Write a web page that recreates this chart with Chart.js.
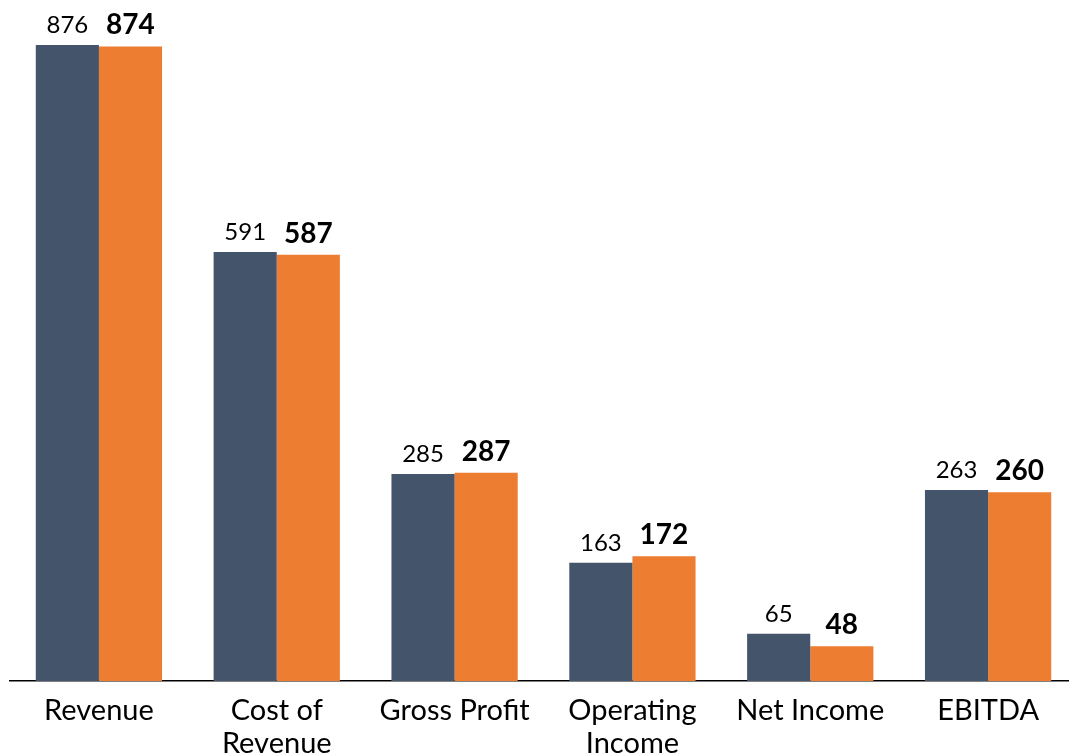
<!DOCTYPE html>
<html>
<head>
<meta charset="utf-8">
<script src="https://cdn.jsdelivr.net/npm/chart.js@4"></script>
<style>
  html, body { margin: 0; padding: 0; background: #fff; overflow: hidden; }
  #wrap { width: 1077px; height: 754px; }
</style>
</head>
<body>
<div id="wrap"><canvas id="finChart"></canvas></div>
<script>
// categories and values
const categories = [['Revenue'], ['Cost of', 'Revenue'], ['Gross Profit'], ['Operating', 'Income'], ['Net Income'], ['EBITDA']];
const priorValues = [876, 591, 285, 163, 65, 263];
const currentValues = [874, 587, 287, 172, 48, 260];

const FONT = 'Lato, "Open Sans", sans-serif';

// value labels above each bar (first series normal, second bold)
const valueLabels = {
  id: 'valueLabels',
  afterDatasetsDraw(chart) {
    const ctx = chart.ctx;
    ctx.save();
    ctx.fillStyle = '#000';
    ctx.textAlign = 'center';
    ctx.textBaseline = 'alphabetic';
    chart.data.datasets.forEach((ds, i) => {
      const meta = chart.getDatasetMeta(i);
      ctx.font = i === 0 ? '24px ' + FONT : 'bold 28px ' + FONT;
      meta.data.forEach((bar, j) => {
        ctx.fillText(ds.data[j], bar.x, bar.y - 12);
      });
    });
    ctx.restore();
  }
};

new Chart(document.getElementById('finChart'), {
  type: 'bar',
  data: {
    labels: categories,
    datasets: [
      {
        label: 'Prior',
        data: priorValues,
        backgroundColor: '#44546A',
        categoryPercentage: 0.71,
        barPercentage: 1
      },
      {
        label: 'Current',
        data: currentValues,
        backgroundColor: '#ED7D31',
        categoryPercentage: 0.71,
        barPercentage: 1
      }
    ]
  },
  options: {
    responsive: true,
    maintainAspectRatio: false,
    animation: false,
    layout: { padding: { left: 10, right: 0, top: 0, bottom: 0 } },
    plugins: {
      legend: { display: false },
      tooltip: { enabled: false }
    },
    scales: {
      x: {
        grid: { display: false },
        border: { display: true, color: '#000', width: 1.5 },
        ticks: {
          color: '#000',
          padding: 5,
          maxRotation: 0,
          autoSkip: false,
          font: { family: FONT, size: 29, lineHeight: 1.13 }
        },
        afterFit(scale) { scale.height = 73; }
      },
      y: {
        display: false,
        min: 0,
        max: 938
      }
    }
  },
  plugins: [valueLabels]
});
</script>
</body>
</html>
